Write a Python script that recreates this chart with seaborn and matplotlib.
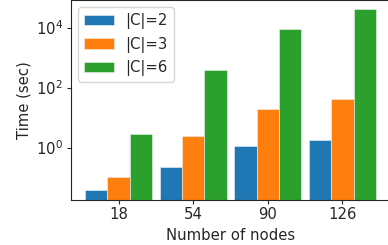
import pandas as pd
import matplotlib
matplotlib.use("Agg")
import matplotlib.pyplot as plt
import seaborn as sns

# values (seconds, log scale)
nodes = ["18", "54", "90", "126"]
labels = ["|C|=2", "|C|=3", "|C|=6"]
time_c2 = [0.038, 0.23, 1.12, 1.82]
time_c3 = [0.104, 2.42, 18.8, 40.4]
time_c6 = [2.82, 374, 8900, 40400]
colors = ["#1f77b4", "#ff7f0e", "#2ca02c"]
yticks = [1, 100, 10000]

rows = []
for lab, vals in zip(labels, [time_c2, time_c3, time_c6]):
    for n, v in zip(nodes, vals):
        rows.append({"nodes": n, "C": lab, "time": v})
df = pd.DataFrame(rows)

sns.set_style("ticks")
plt.rcParams["font.family"] = ["DejaVu Sans"]
fs = 10.7

fig = plt.figure(figsize=(3.88, 2.45), dpi=100)
ax = fig.add_axes([70.5 / 388, 45.5 / 245, 320 / 388, 199.5 / 245])

sns.barplot(data=df, x="nodes", y="time", hue="C", palette=colors,
            saturation=1, width=0.9, order=nodes, hue_order=labels,
            log_scale=True, errorbar=None, linewidth=0.4, edgecolor="#f0f0f0",
            ax=ax)

ax.set_yscale("log")
ax.set_ylim(0.0185, 82600)
ax.set_xlim(-0.645, 3.645)
ax.set_yticks(yticks)
ax.minorticks_off()
ax.set_xlabel("Number of nodes", fontsize=fs)
ax.set_ylabel("Time (sec)", fontsize=fs, labelpad=3)
ax.tick_params(labelsize=fs, length=3, pad=2.5)
ax.legend(title=None, loc="upper left", fontsize=fs)

fig.savefig("out.png", dpi=100)
